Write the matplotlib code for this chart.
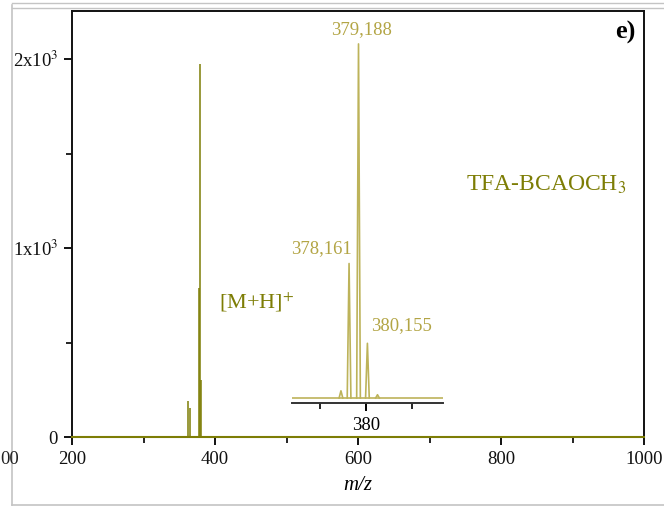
import matplotlib
matplotlib.use("Agg")
import matplotlib.pyplot as plt
from matplotlib.lines import Line2D
from matplotlib.ticker import MultipleLocator, FixedLocator

plt.rcParams['font.family'] = ['Liberation Serif', 'DejaVu Serif']
plt.rcParams['mathtext.fontset'] = 'stix'

# ---- data ----
main_mz = [362.5, 365.5, 378.161, 379.188, 380.155]
main_int = [192, 153, 790, 1975, 300]

inset_mz = [377.28, 378.161, 379.188, 380.155, 381.25]
inset_int = [40, 750, 1975, 305, 18]

x_ticks = [200, 400, 600, 800, 1000]
y_ticks = [0, 1000, 2000]
y_ticklabels = ['0', '1x10$^{3}$', '2x10$^{3}$']

peak_labels = ['378,161', '379,188', '380,155']
compound = 'TFA-BCAOCH$_{3}$'
ion = '[M+H]$^{+}$'
panel = 'e)'

OLIVE = '#7d7d05'
LIGHT = '#bdb35a'
LABEL = '#b3a545'

W, H = 664, 508
fig = plt.figure(figsize=(W / 100, H / 100), dpi=100)

def fx(px):
    return px / W

def fy(py):
    return 1 - py / H

# ---- screenshot frame remnants ----
gray = '#c4c4c4'
fig.add_artist(Line2D([fx(11.5), fx(11.5)], [fy(5), fy(505)], color=gray, lw=1.2))
fig.add_artist(Line2D([fx(11.5), 1], [fy(3), fy(3)], color=gray, lw=1.0))
fig.add_artist(Line2D([fx(11.5), 1], [fy(7.5), fy(7.5)], color=gray, lw=1.0))
fig.add_artist(Line2D([fx(11.5), 1], [fy(505), fy(505)], color=gray, lw=1.2))
fig.text(fx(0), fy(460), '00', ha='left', va='center', fontsize=13.5, color='#222222')

# ---- main axes ----
ax = fig.add_axes([fx(72), fy(437), fx(644 - 72), (437 - 11) / H])
ax.set_xlim(200, 1000)
ax.set_ylim(0, 2254)
ax.plot([200, 1000], [0, 0], color=OLIVE, lw=1.5, zorder=4, clip_on=False)
ax.vlines(main_mz, 0, main_int, color=OLIVE, lw=1.1, zorder=4)

ax.xaxis.set_major_locator(FixedLocator(x_ticks))
ax.xaxis.set_minor_locator(MultipleLocator(100))
ax.yaxis.set_major_locator(FixedLocator(y_ticks))
ax.yaxis.set_minor_locator(MultipleLocator(500))
ax.set_yticklabels(y_ticklabels)
ax.tick_params(which='major', direction='out', length=6, width=1.4, labelsize=13.5,
               colors='#111111', pad=4)
ax.tick_params(which='minor', direction='out', length=4, width=1.2)
for s in ax.spines.values():
    s.set_linewidth(1.4)
    s.set_color('#111111')
ax.set_xlabel('m/z', fontsize=15, style='italic', labelpad=6)

ax.text(fx(219), fy(302), ion, transform=fig.transFigure, fontsize=16,
        color=OLIVE, ha='left', va='center')
ax.text(fx(466), fy(191), compound, transform=fig.transFigure, fontsize=17,
        color=OLIVE, ha='left', va='baseline')
ax.text(fx(635), fy(32), panel, transform=fig.transFigure, fontsize=19,
        fontweight='bold', color='black', ha='right', va='center')

# ---- inset ----
ins = fig.add_axes([fx(292), fy(403), fx(443 - 292), (403 - 40) / H])
ins.patch.set_alpha(0)
ins.set_xlim(371.96, 388.37)
ins.set_ylim(-28, 1997)
w = 0.2
for c, h in zip(inset_mz, inset_int):
    ins.plot([c - w, c, c + w], [0, h, 0], color=LIGHT, lw=1.2)
ins.plot([371.96, 388.37], [0, 0], color=LIGHT, lw=1.2, zorder=1)
for s in ['left', 'right', 'top']:
    ins.spines[s].set_visible(False)
ins.spines['bottom'].set_linewidth(1.4)
ins.spines['bottom'].set_color('#333333')
ins.set_yticks([])
ins.xaxis.set_major_locator(FixedLocator([380]))
ins.xaxis.set_minor_locator(FixedLocator([375, 385]))
ins.tick_params(which='major', direction='out', length=6, width=1.4, labelsize=13.5, pad=4)
ins.tick_params(which='minor', direction='out', length=4, width=1.2)

ins.text(fx(321), fy(249), peak_labels[0], transform=fig.transFigure, fontsize=13.5,
         color=LABEL, ha='center', va='center')
ins.text(fx(362), fy(30), peak_labels[1], transform=fig.transFigure, fontsize=13.5,
         color=LABEL, ha='center', va='center')
ins.text(fx(402), fy(326), peak_labels[2], transform=fig.transFigure, fontsize=13.5,
         color=LABEL, ha='center', va='center')

fig.savefig('out.png', dpi=100)
